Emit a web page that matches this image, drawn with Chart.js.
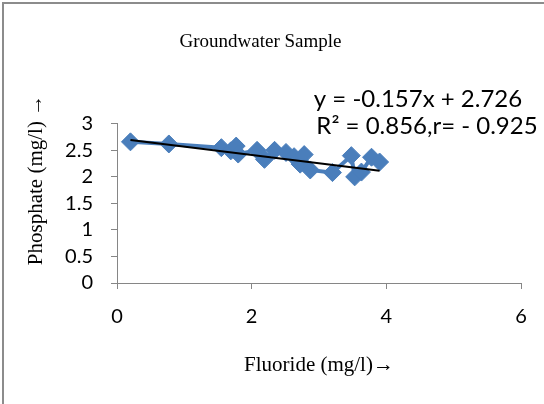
<!DOCTYPE html>
<html>
<head>
<meta charset="utf-8">
<script src="https://cdn.jsdelivr.net/npm/chart.js@4/dist/chart.umd.min.js"></script>
<style>
  body { margin: 0; background: #fff; }
  #wrap { width: 544px; height: 404px; }
</style>
</head>
<body>
<div id="wrap"><canvas id="scatter" width="544" height="404"></canvas></div>
<script>
// values
var fluoride  = [0.20, 0.77, 1.55, 1.69, 1.77, 1.80, 2.08, 2.19, 2.34, 2.51,
                 2.63, 2.72, 2.78, 2.87, 3.20, 3.48, 3.53, 3.63, 3.78, 3.90];
var phosphate = [2.66, 2.62, 2.55, 2.49, 2.58, 2.43, 2.50, 2.33, 2.50, 2.46,
                 2.38, 2.24, 2.42, 2.13, 2.08, 2.40, 2.00, 2.09, 2.37, 2.28];
var xTicks = [0, 2, 4, 6];
var yTicks = [0, 0.5, 1, 1.5, 2, 2.5, 3];
var slope = -0.157;
var intercept = 2.726;
var eqLines = ['y = -0.157x + 2.726', 'R\u00b2 = 0.856,r= - 0.925'];

var points = fluoride.map(function(x, i) { return { x: x, y: phosphate[i] }; });
var xMin = Math.min.apply(null, fluoride);
var xMax = Math.max.apply(null, fluoride);
var trend = [
  { x: xMin, y: slope * xMin + intercept },
  { x: xMax, y: slope * xMax + intercept }
];

var extras = {
  id: 'extras',
  afterDraw: function(chart) {
    var ctx = chart.ctx;
    ctx.save();
    // frame (left and top only, rest cut off)
    ctx.fillStyle = '#8c8c8c';
    ctx.fillRect(2, 2, 2, 402);
    ctx.fillRect(2, 2, 542, 2);
    // y axis title
    ctx.fillStyle = '#000';
    ctx.font = '21px "Liberation Serif", "Times New Roman", serif';
    ctx.textAlign = 'center';
    ctx.textBaseline = 'middle';
    ctx.translate(36, 180);
    ctx.rotate(-Math.PI / 2);
    ctx.fillText('Phosphate (mg/l) \u2192', 0, 0);
    ctx.restore();
    // trend equation
    ctx.save();
    ctx.fillStyle = '#000';
    ctx.font = '24px Lato, "Open Sans", sans-serif';
    ctx.textAlign = 'center';
    ctx.textBaseline = 'middle';
    ctx.fillText(eqLines[0], 418, 99);
    ctx.fillText(eqLines[1], 427, 126);
    ctx.restore();
  }
};

var ctx = document.getElementById('scatter').getContext('2d');
var chart = new Chart(ctx, {
  type: 'scatter',
  data: {
    datasets: [{
      label: 'Trend',
      data: trend,
      showLine: true,
      borderColor: '#000',
      borderWidth: 2,
      pointRadius: 0,
      order: 0
    }, {
      label: 'Groundwater',
      data: points,
      showLine: true,
      borderColor: '#4a7ebb',
      backgroundColor: '#4a7ebb',
      borderWidth: 4,
      pointStyle: 'rectRot',
      pointRadius: 9,
      pointBorderWidth: 1,
      order: 1
    }]
  },
  plugins: [extras],
  options: {
    responsive: false,
    animation: false,
    layout: { padding: { left: 0, top: 0, right: 23, bottom: 0 } },
    plugins: {
      legend: { display: false },
      tooltip: { enabled: false },
      title: {
        display: true,
        text: 'Groundwater Sample',
        color: '#000',
        font: { family: '"Liberation Serif", "Times New Roman", serif', size: 19, weight: 'normal' },
        padding: { top: 31, bottom: 70 }
      }
    },
    scales: {
      x: {
        type: 'linear',
        min: 0,
        max: 6,
        afterBuildTicks: function(s) { s.ticks = xTicks.map(function(v) { return { value: v }; }); },
        afterFit: function(s) { s.height = 121; },
        ticks: {
          color: '#000', padding: 16, autoSkip: false,
          font: { family: 'Lato, "Open Sans", sans-serif', size: 20 },
          callback: function(v) { return String(v); }
        },
        grid: { drawOnChartArea: false, tickLength: 6, color: '#868686' },
        border: { color: '#868686' },
        title: {
          display: true,
          text: 'Fluoride (mg/l)\u2192',
          color: '#000',
          font: { family: '"Liberation Serif", "Times New Roman", serif', size: 21 },
          padding: { top: 0, bottom: 26 }
        }
      },
      y: {
        type: 'linear',
        min: 0,
        max: 3,
        afterBuildTicks: function(s) { s.ticks = yTicks.map(function(v) { return { value: v }; }); },
        afterFit: function(s) { s.width = 117; },
        ticks: {
          color: '#000', padding: 18, autoSkip: false,
          font: { family: 'Lato, "Open Sans", sans-serif', size: 20, lineHeight: 1 },
          callback: function(v) { return String(v); }
        },
        grid: { drawOnChartArea: false, tickLength: 6, color: '#868686' },
        border: { color: '#868686' }
      }
    }
  }
});
</script>
</body>
</html>
